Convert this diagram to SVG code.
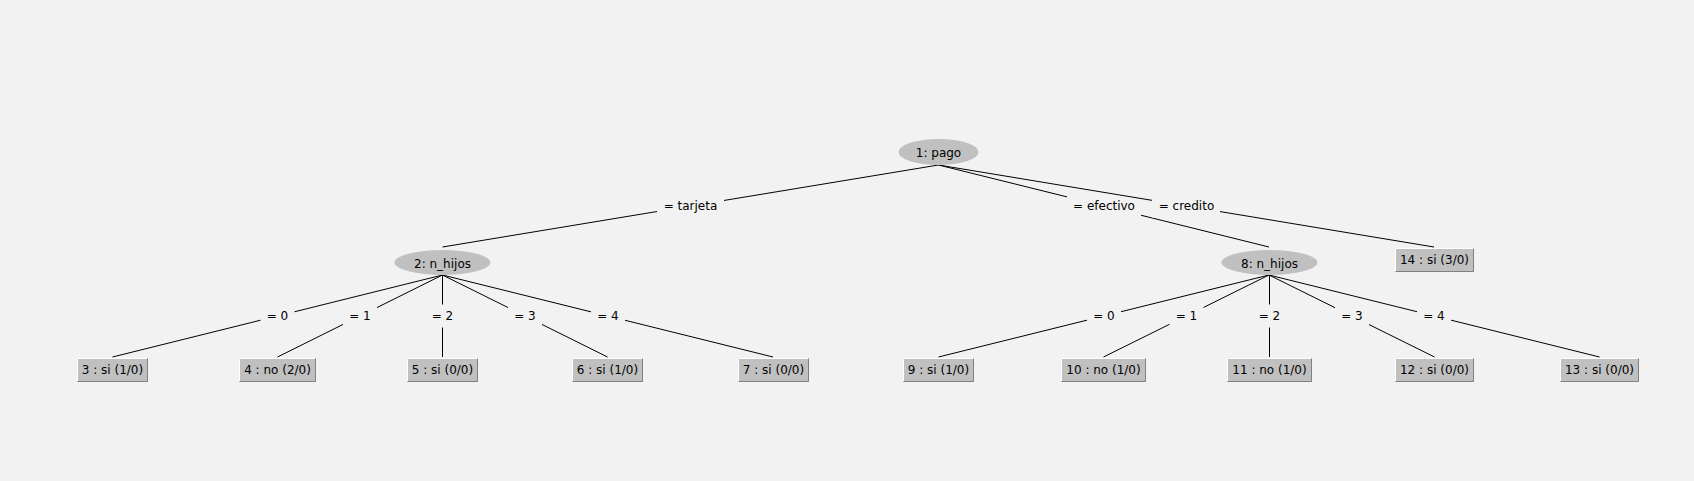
<svg xmlns="http://www.w3.org/2000/svg" width="1694" height="481" viewBox="0 0 1694 481">
<style>
text{font-family:"DejaVu Sans","Liberation Sans",sans-serif;font-size:12px;fill:#000;text-anchor:middle}
.edge{stroke:#000;stroke-width:1;fill:none}
.lblbg{fill:#f2f2f2;stroke:none}
.inner{fill:#c0c0c0;stroke:none}
.leaf{fill:#c0c0c0;stroke:none}
.hi{stroke:#ffffff;stroke-width:1;fill:none}
.lo{stroke:#808080;stroke-width:1;fill:none}
</style>
<rect x="0" y="0" width="1694" height="481" fill="#f2f2f2"/>

<g id="connectors">
  <line class="edge" x1="938.5" y1="165" x2="442.5" y2="247"/>
  <rect class="lblbg" x="657" y="194.5" width="67" height="23"/>
  <text x="690.5" y="210">= tarjeta</text>
  <line class="edge" x1="938.5" y1="165" x2="1269" y2="247"/>
  <rect class="lblbg" x="1067" y="194.5" width="74" height="23"/>
  <text x="1104" y="210">= efectivo</text>
  <line class="edge" x1="938.5" y1="165" x2="1434" y2="247"/>
  <rect class="lblbg" x="1152" y="194.5" width="68" height="23"/>
  <text x="1186.5" y="210">= credito</text>

  <line class="edge" x1="442.5" y1="275" x2="112.5" y2="357"/>
  <rect class="lblbg" x="260.5" y="304.5" width="34" height="23"/>
  <text x="277.5" y="320">= 0</text>
  <line class="edge" x1="442.5" y1="275" x2="277.5" y2="357"/>
  <rect class="lblbg" x="343" y="304.5" width="34" height="23"/>
  <text x="360" y="320">= 1</text>
  <line class="edge" x1="442.5" y1="275" x2="442.5" y2="357"/>
  <rect class="lblbg" x="425.5" y="304.5" width="34" height="23"/>
  <text x="442.5" y="320">= 2</text>
  <line class="edge" x1="442.5" y1="275" x2="607.5" y2="357"/>
  <rect class="lblbg" x="508" y="304.5" width="34" height="23"/>
  <text x="525" y="320">= 3</text>
  <line class="edge" x1="442.5" y1="275" x2="773" y2="357"/>
  <rect class="lblbg" x="591" y="304.5" width="34" height="23"/>
  <text x="608" y="320">= 4</text>

  <line class="edge" x1="1269" y1="275" x2="938.5" y2="357"/>
  <rect class="lblbg" x="1087" y="304.5" width="34" height="23"/>
  <text x="1104" y="320">= 0</text>
  <line class="edge" x1="1269" y1="275" x2="1103.5" y2="357"/>
  <rect class="lblbg" x="1169.5" y="304.5" width="34" height="23"/>
  <text x="1186.5" y="320">= 1</text>
  <line class="edge" x1="1269.5" y1="275" x2="1269.5" y2="357"/>
  <rect class="lblbg" x="1252.5" y="304.5" width="34" height="23"/>
  <text x="1269.5" y="320">= 2</text>
  <line class="edge" x1="1269" y1="275" x2="1434.5" y2="357"/>
  <rect class="lblbg" x="1335" y="304.5" width="34" height="23"/>
  <text x="1352" y="320">= 3</text>
  <line class="edge" x1="1269" y1="275" x2="1599.5" y2="357"/>
  <rect class="lblbg" x="1417" y="304.5" width="34" height="23"/>
  <text x="1434" y="320">= 4</text>
</g>

<g id="node1">
  <ellipse class="inner" cx="938.5" cy="152" rx="40" ry="13"/>
  <text x="938.5" y="157">1: pago</text>
</g>
<g id="node2">
  <ellipse class="inner" cx="442.5" cy="262.5" rx="48" ry="12.5"/>
  <text x="442.5" y="267.5">2: n_hijos</text>
</g>
<g id="node8">
  <ellipse class="inner" cx="1269.5" cy="262.5" rx="48" ry="12.5"/>
  <text x="1269.5" y="267.5">8: n_hijos</text>
</g>

<g id="node3">
  <rect class="leaf" x="77" y="358" width="71" height="24"/>
  <polyline class="hi" points="77.5,381.5 77.5,358.5 147.5,358.5"/>
  <polyline class="lo" points="77.5,381.5 147.5,381.5 147.5,358.5"/>
  <text x="112.5" y="374">3 : si (1/0)</text>
</g>
<g id="node4">
  <rect class="leaf" x="239" y="358" width="77" height="24"/>
  <polyline class="hi" points="239.5,381.5 239.5,358.5 315.5,358.5"/>
  <polyline class="lo" points="239.5,381.5 315.5,381.5 315.5,358.5"/>
  <text x="277.5" y="374">4 : no (2/0)</text>
</g>
<g id="node5">
  <rect class="leaf" x="407" y="358" width="71" height="24"/>
  <polyline class="hi" points="407.5,381.5 407.5,358.5 477.5,358.5"/>
  <polyline class="lo" points="407.5,381.5 477.5,381.5 477.5,358.5"/>
  <text x="442.5" y="374">5 : si (0/0)</text>
</g>
<g id="node6">
  <rect class="leaf" x="572" y="358" width="71" height="24"/>
  <polyline class="hi" points="572.5,381.5 572.5,358.5 642.5,358.5"/>
  <polyline class="lo" points="572.5,381.5 642.5,381.5 642.5,358.5"/>
  <text x="607.5" y="374">6 : si (1/0)</text>
</g>
<g id="node7">
  <rect class="leaf" x="738" y="358" width="71" height="24"/>
  <polyline class="hi" points="738.5,381.5 738.5,358.5 808.5,358.5"/>
  <polyline class="lo" points="738.5,381.5 808.5,381.5 808.5,358.5"/>
  <text x="773.5" y="374">7 : si (0/0)</text>
</g>
<g id="node9">
  <rect class="leaf" x="903" y="358" width="71" height="24"/>
  <polyline class="hi" points="903.5,381.5 903.5,358.5 973.5,358.5"/>
  <polyline class="lo" points="903.5,381.5 973.5,381.5 973.5,358.5"/>
  <text x="938.5" y="374">9 : si (1/0)</text>
</g>
<g id="node10">
  <rect class="leaf" x="1061" y="358" width="85" height="24"/>
  <polyline class="hi" points="1061.5,381.5 1061.5,358.5 1145.5,358.5"/>
  <polyline class="lo" points="1061.5,381.5 1145.5,381.5 1145.5,358.5"/>
  <text x="1103.5" y="374">10 : no (1/0)</text>
</g>
<g id="node11">
  <rect class="leaf" x="1227" y="358" width="85" height="24"/>
  <polyline class="hi" points="1227.5,381.5 1227.5,358.5 1311.5,358.5"/>
  <polyline class="lo" points="1227.5,381.5 1311.5,381.5 1311.5,358.5"/>
  <text x="1269.5" y="374">11 : no (1/0)</text>
</g>
<g id="node12">
  <rect class="leaf" x="1395" y="358" width="79" height="24"/>
  <polyline class="hi" points="1395.5,381.5 1395.5,358.5 1473.5,358.5"/>
  <polyline class="lo" points="1395.5,381.5 1473.5,381.5 1473.5,358.5"/>
  <text x="1434.5" y="374">12 : si (0/0)</text>
</g>
<g id="node13">
  <rect class="leaf" x="1560" y="358" width="79" height="24"/>
  <polyline class="hi" points="1560.5,381.5 1560.5,358.5 1638.5,358.5"/>
  <polyline class="lo" points="1560.5,381.5 1638.5,381.5 1638.5,358.5"/>
  <text x="1599.5" y="374">13 : si (0/0)</text>
</g>
<g id="node14">
  <rect class="leaf" x="1395" y="248" width="79" height="24"/>
  <polyline class="hi" points="1395.5,271.5 1395.5,248.5 1473.5,248.5"/>
  <polyline class="lo" points="1395.5,271.5 1473.5,271.5 1473.5,248.5"/>
  <text x="1434.5" y="264">14 : si (3/0)</text>
</g>
</svg>
